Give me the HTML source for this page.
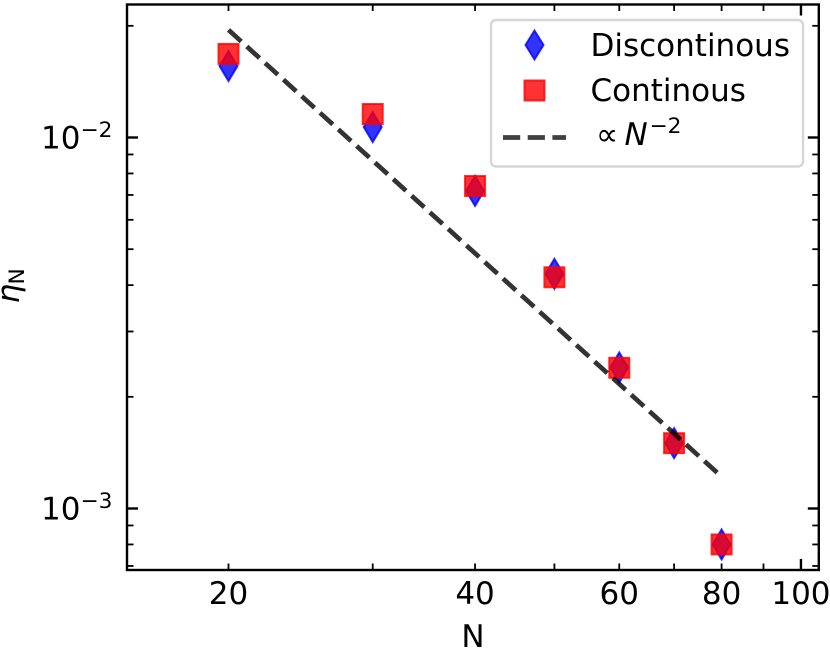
<!DOCTYPE html>
<html lang="en">
<head>
<meta charset="utf-8">
<title>eta_N versus N</title>
<style>
html,body{margin:0;padding:0;background:#fff;width:830px;height:650px;overflow:hidden}
svg{display:block}
text{font-family:"DejaVu Sans","Liberation Sans",sans-serif;fill:#000}
</style>
</head>
<body>
<svg id="chart" xmlns="http://www.w3.org/2000/svg" width="830" height="650" viewBox="0 0 830 650">
  <rect x="0" y="0" width="830" height="650" fill="#fff"/>
  <g id="ticks"></g>
  <g id="series-d"></g>
  <g id="series-c"></g>
  <path id="fit-line" fill="none" stroke="#000" stroke-opacity="0.8" stroke-width="4.7" stroke-dasharray="17.2 7.5"/>
  <g id="labels"></g>
  <rect x="127" y="4.5" width="691.8" height="565.5" fill="none" stroke="#000" stroke-width="2.4"/>
  <text x="473" y="647" font-size="31" text-anchor="middle">N</text>
  <g transform="translate(19 303.5) rotate(-90)">
    <text x="0" y="0" font-size="31" font-style="italic">η</text>
    <text x="19" y="5" font-size="21.7">N</text>
  </g>
  <g>
    <rect x="491" y="20" width="312" height="146.5" rx="5" ry="5" fill="#fff" fill-opacity="0.8" stroke="#ccc" stroke-opacity="0.8" stroke-width="2.4"/>
    <path d="M534.5 30.5L543.5 45L534.5 59.5L525.5 45Z" fill="#00f" fill-opacity="0.8" stroke="#00f" stroke-opacity="0.8" stroke-width="2"/>
    <text x="590.5" y="56" font-size="31">Discontinous</text>
    <rect x="524.5" y="80.5" width="20" height="20" fill="#f00" fill-opacity="0.8" stroke="#f00" stroke-opacity="0.8" stroke-width="2"/>
    <text x="590.5" y="101" font-size="31">Continous</text>
    <path d="M503 137.5H566" fill="none" stroke="#000" stroke-opacity="0.75" stroke-width="4.7" stroke-dasharray="17.2 7.5"/>
    <text x="596" y="145" font-size="31">∝</text>
    <text x="624.5" y="145" font-size="31" font-style="italic">N</text>
    <text x="649.5" y="133" font-size="21.7">−2</text>
  </g>
</svg>
<script>
const categories = [20, 30, 40, 50, 60, 70, 80];
const discontinousValues = [0.01558, 0.01067, 0.00718, 0.00429, 0.00240, 0.00150, 0.00080];
const continousValues = [0.0168, 0.01157, 0.0074, 0.0042, 0.002395, 0.0015, 0.0008];
const fitN = [20, 79.4];
const fitValues = [0.0195, 0.001237];
const xLabelTicks = [20, 40, 60, 80, 100];
const xMinorTicks = [20, 30, 40, 50, 60, 70, 80, 90];
const xMajorTicks = [100];
const yMajorTicks = [0.01, 0.001];
const yMajorExponents = ['−2', '−3'];
const yMinorTicks = [0.02, 0.009, 0.008, 0.007, 0.006, 0.005, 0.004, 0.003, 0.002, 0.0009, 0.0008, 0.0007];

const NS = 'http://www.w3.org/2000/svg';
const xScale = v => 228.5 + 819 * (Math.log10(v) - Math.log10(20));
const yScale = v => 137.5 - 371 * (Math.log10(v) + 2);
const LEFT = 127, RIGHT = 818.8, TOP = 4.5, BOTTOM = 570;

function make(tag, attrs, parent) {
  const el = document.createElementNS(NS, tag);
  for (const k in attrs) el.setAttribute(k, attrs[k]);
  parent.appendChild(el);
  return el;
}
function tickPair(x1, y1, x2, y2, x3, y3, x4, y4, w, name) {
  const parent = document.getElementById('ticks');
  const a = make('line', {x1: x1, y1: y1, x2: x2, y2: y2, stroke: '#000', 'stroke-width': w}, parent);
  
  
  const b = make('line', {x1: x3, y1: y3, x2: x4, y2: y4, stroke: '#000', 'stroke-width': w}, parent);
  
  
}
xMinorTicks.forEach(v => {
  const x = xScale(v);
  tickPair(x, BOTTOM, x, BOTTOM - 6.5, x, TOP, x, TOP + 6.5, 1.8, 'x-minor-tick');
});
xMajorTicks.forEach(v => {
  const x = xScale(v);
  tickPair(x, BOTTOM, x, BOTTOM - 11, x, TOP, x, TOP + 11, 2.4, 'x-major-tick');
});
yMinorTicks.forEach(v => {
  const y = yScale(v);
  tickPair(LEFT, y, LEFT + 6.5, y, RIGHT, y, RIGHT - 6.5, y, 1.8, 'y-minor-tick');
});
yMajorTicks.forEach(v => {
  const y = yScale(v);
  tickPair(LEFT, y, LEFT + 11, y, RIGHT, y, RIGHT - 11, y, 2.4, 'y-major-tick');
});

const seriesD = document.getElementById('series-d');
categories.forEach((n, i) => {
  const cx = xScale(n), cy = yScale(discontinousValues[i]);
  const d = `M${cx} ${cy - 15}L${cx + 9} ${cy}L${cx} ${cy + 15}L${cx - 9} ${cy}Z`;
  const el = make('path', {d: d, fill: '#00f', 'fill-opacity': 0.8, stroke: '#00f', 'stroke-opacity': 0.8, 'stroke-width': 2}, seriesD);
  
  
});
const seriesC = document.getElementById('series-c');
categories.forEach((n, i) => {
  const cx = xScale(n), cy = yScale(continousValues[i]);
  const el = make('rect', {x: cx - 10, y: cy - 10, width: 20, height: 20, fill: '#f00', 'fill-opacity': 0.8, stroke: '#f00', 'stroke-opacity': 0.8, 'stroke-width': 2}, seriesC);
  
  
});
document.getElementById('fit-line').setAttribute('d',
  fitN.map((n, i) => (i ? 'L' : 'M') + xScale(n) + ' ' + yScale(fitValues[i])).join(''));

const labels = document.getElementById('labels');
xLabelTicks.forEach(v => {
  const t = make('text', {x: xScale(v), y: 604, 'font-size': 31, 'text-anchor': 'middle'}, labels);
  t.textContent = String(v);
  
  
});
yMajorTicks.forEach((v, i) => {
  const y = yScale(v);
  const base = make('text', {x: 41, y: y + 11, 'font-size': 31}, labels);
  base.textContent = '10';
  
  
  const sup = make('text', {x: 80.5, y: y - 0.5, 'font-size': 21.7}, labels);
  sup.textContent = yMajorExponents[i];
  
  
});
</script>
</body>
</html>
